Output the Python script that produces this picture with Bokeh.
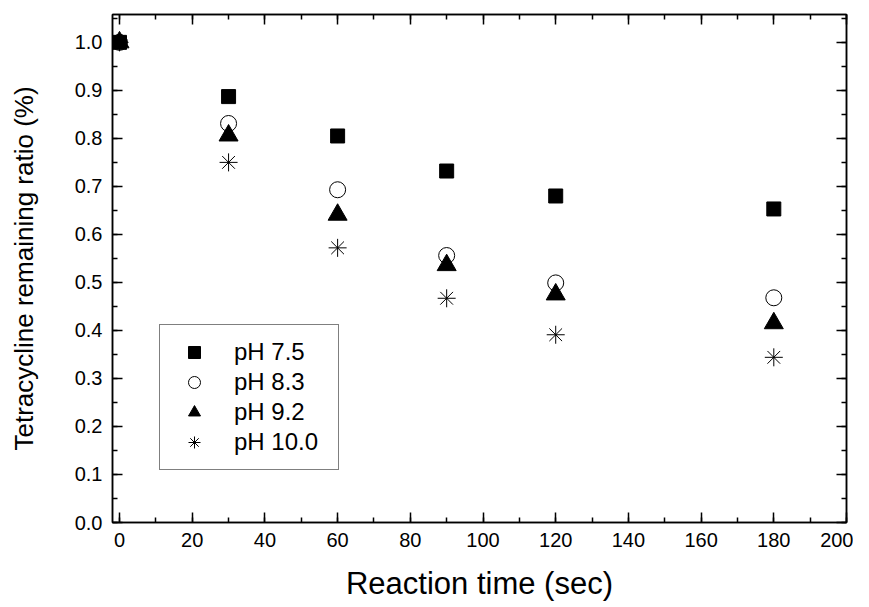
from bokeh.plotting import figure
from bokeh.models import (LinearAxis, Range1d, FixedTicker, NumeralTickFormatter,
                          CustomJSTickFormatter, Legend, LegendItem)
from bokeh.embed import file_html
from bokeh.resources import INLINE

# ---- data ----
time_sec = [0, 30, 60, 90, 120, 180]
ph_7_5 = [1.0, 0.887, 0.805, 0.732, 0.680, 0.653]
ph_8_3 = [1.0, 0.831, 0.693, 0.556, 0.499, 0.468]
ph_9_2 = [1.0, 0.806, 0.641, 0.536, 0.475, 0.415]
ph_10_0 = [1.0, 0.750, 0.572, 0.467, 0.391, 0.344]
series_labels = ["pH 7.5", "pH 8.3", "pH 9.2", "pH 10.0"]
x_ticks = [0, 20, 40, 60, 80, 100, 120, 140, 160, 180, 200]
y_ticks = [0.0, 0.1, 0.2, 0.3, 0.4, 0.5, 0.6, 0.7, 0.8, 0.9, 1.0]
x_title = "Reaction time (sec)"
y_title = "Tetracycline remaining ratio (%)"

FONT = "Liberation Sans"

p = figure(frame_width=734, frame_height=508,
           min_border_left=112, min_border_right=7,
           min_border_top=14, min_border_bottom=84,
           x_range=Range1d(-1.93, 200), y_range=Range1d(0, 1.058),
           output_backend="svg", toolbar_location=None,
           x_axis_type=None, y_axis_type=None)
p.grid.visible = False
p.outline_line_color = "black"
p.outline_line_width = 1.5
p.background_fill_color = "white"
p.border_fill_color = "white"

xt = FixedTicker(ticks=x_ticks, minor_ticks=[v for v in range(0, 201, 10)])
yt = FixedTicker(ticks=y_ticks, minor_ticks=[round(i * 0.05, 2) for i in range(0, 22)])


def style_axis(ax, show_labels):
    ax.axis_line_color = "black"
    ax.axis_line_width = 1.5
    ax.major_tick_in = 10
    ax.major_tick_out = 0
    ax.minor_tick_in = 5
    ax.minor_tick_out = 0
    ax.major_tick_line_width = 1.5
    ax.minor_tick_line_width = 1.5
    ax.major_tick_line_color = "black"
    ax.minor_tick_line_color = "black"
    if show_labels:
        ax.major_label_text_font = FONT
        ax.major_label_text_font_size = "20px"
        ax.major_label_text_color = "black"
        ax.major_label_standoff = 10
        ax.axis_label_text_font = FONT
        ax.axis_label_text_font_style = "normal"
        ax.axis_label_text_color = "black"
    else:
        ax.formatter = CustomJSTickFormatter(code="return ''")
        ax.major_label_standoff = 0


xb = LinearAxis(ticker=xt, formatter=NumeralTickFormatter(format="0"))
style_axis(xb, True)
xb.axis_label = x_title
xb.axis_label_text_font_size = "31px"
xb.axis_label_standoff = 16
p.add_layout(xb, "below")
xa = LinearAxis(ticker=xt)
style_axis(xa, False)
p.add_layout(xa, "above")

yl = LinearAxis(ticker=yt, formatter=NumeralTickFormatter(format="0.0"))
style_axis(yl, True)
yl.axis_label = y_title
yl.axis_label_text_font_size = "26px"
yl.axis_label_standoff = 33
p.add_layout(yl, "left")
yr = LinearAxis(ticker=yt)
style_axis(yr, False)
p.add_layout(yr, "right")

r1 = p.scatter(time_sec, ph_7_5, marker="square", size=14,
               fill_color="black", line_color="black", line_width=1)
r2 = p.scatter(time_sec, ph_8_3, marker="circle", size=16,
               fill_color=None, line_color="black", line_width=1)
r3 = p.scatter(time_sec, ph_9_2, marker="triangle", size=19,
               fill_color="black", line_color="black", line_width=1)
r4 = p.scatter(time_sec, ph_10_0, marker="asterisk", size=18,
               line_color="black", line_width=1)

legend = Legend(items=[LegendItem(label=lab, renderers=[r])
                       for lab, r in zip(series_labels, [r1, r2, r3, r4])],
                location=(47, 52),
                border_line_color="black", border_line_width=1,
                background_fill_color="white", background_fill_alpha=1,
                label_text_font=FONT, label_text_font_size="24px",
                label_text_color="black",
                glyph_width=44, glyph_height=30, label_height=30,
                spacing=0, padding=12, label_standoff=18, label_width=92,
                margin=0)
p.add_layout(legend, "center")

open("out.html", "w").write(file_html(p, INLINE))
